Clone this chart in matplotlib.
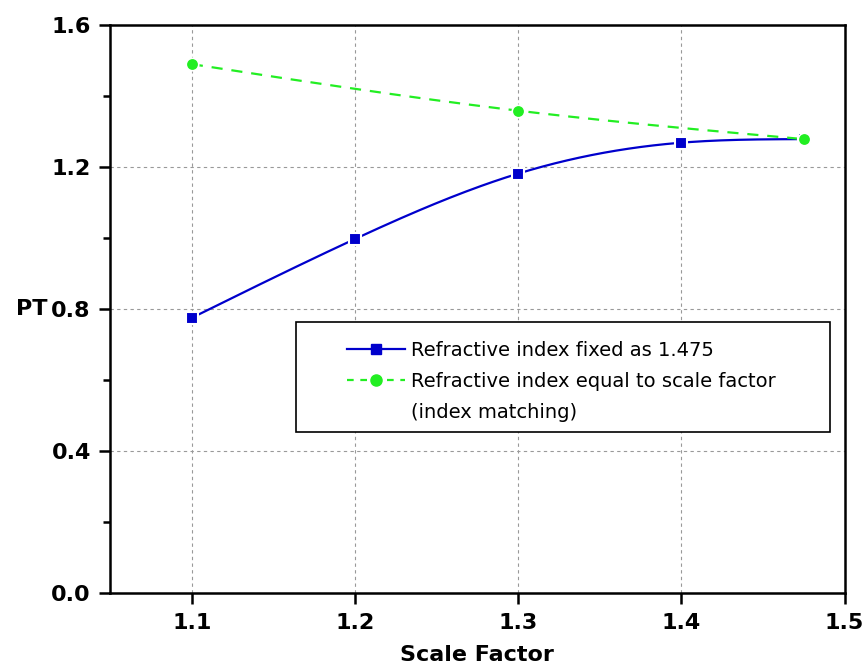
import numpy as np
import matplotlib
matplotlib.use("Agg")
import matplotlib.pyplot as plt
from matplotlib.patches import Rectangle

# data
scale_fixed = [1.1, 1.2, 1.3, 1.4, 1.475]
pt_fixed = [0.775, 0.997, 1.181, 1.268, 1.278]

scale_match = [1.1, 1.3, 1.475]
pt_match = [1.489, 1.358, 1.278]

label_fixed = "Refractive index fixed as 1.475"
label_match = "Refractive index equal to scale factor"
label_match2 = "(index matching)"

x_ticks = [1.1, 1.2, 1.3, 1.4, 1.5]
y_ticks = [0.0, 0.4, 0.8, 1.2, 1.6]
y_minor = [0.2, 0.6, 1.0, 1.4]


def smooth(x, y, n=200):
    # natural cubic spline, only used to draw the connecting line
    x = np.asarray(x, float)
    y = np.asarray(y, float)
    k = len(x)
    h = np.diff(x)
    A = np.zeros((k, k))
    b = np.zeros(k)
    A[0, 0] = A[-1, -1] = 1
    for i in range(1, k - 1):
        A[i, i - 1] = h[i - 1]
        A[i, i] = 2 * (h[i - 1] + h[i])
        A[i, i + 1] = h[i]
        b[i] = 6 * ((y[i + 1] - y[i]) / h[i] - (y[i] - y[i - 1]) / h[i - 1])
    m = np.linalg.solve(A, b)
    xs = np.linspace(x[0], x[-1], n)
    idx = np.clip(np.searchsorted(x, xs) - 1, 0, k - 2)
    x0, x1 = x[idx], x[idx + 1]
    hh = x1 - x0
    t0, t1 = x1 - xs, xs - x0
    ys = (m[idx] * t0**3 + m[idx + 1] * t1**3) / (6 * hh) \
        + (y[idx] / hh - m[idx] * hh / 6) * t0 \
        + (y[idx + 1] / hh - m[idx + 1] * hh / 6) * t1
    return xs, ys


fig = plt.figure(figsize=(8.68, 6.68), dpi=100)
ax = fig.add_axes([0.127, 0.112, 0.846, 0.851])

blue = "#0000cc"
green = "#22ee22"

xs, ys = smooth(scale_fixed, pt_fixed)
ax.plot(xs, ys, color=blue, lw=1.6, zorder=3)
ax.plot(scale_fixed, pt_fixed, ls="none", marker="s", ms=8, color=blue,
        mec="white", mew=1.5, zorder=4)

xs, ys = smooth(scale_match, pt_match)
ax.plot(xs, ys, color=green, lw=1.6, ls=(0, (5, 4)), zorder=3)
ax.plot(scale_match, pt_match, ls="none", marker="o", ms=9, color=green,
        mec="white", mew=1.2, zorder=5)

# legend proxies (third one only carries the second text line)
ax.plot([], [], color=blue, lw=1.6, marker="s", ms=7, label=label_fixed)
ax.plot([], [], color=green, lw=1.6, ls=(0, (3, 3)), marker="o", ms=8,
        label=label_match)
ax.plot([], [], color="none", label=label_match2)

ax.set_xlim(1.05, 1.5)
ax.set_ylim(0.0, 1.6)
ax.set_xticks(x_ticks)
ax.set_xticklabels([f"{v:.1f}" for v in x_ticks], fontweight="bold")
ax.set_yticks(y_ticks)
ax.set_yticklabels([f"{v:.1f}" for v in y_ticks], fontweight="bold")
ax.set_yticks(y_minor, minor=True)

ax.grid(True, which="major", color="#999999", ls=(0, (3, 3)), lw=0.8)
for s in ax.spines.values():
    s.set_linewidth(1.8)
ax.tick_params(which="major", direction="out", length=8, width=1.8,
               labelsize=16, pad=6)
ax.tick_params(which="minor", direction="out", length=5, width=1.8)

ax.set_xlabel("Scale Factor", fontsize=16, fontweight="bold", labelpad=9)
ax.set_ylabel("PT", fontsize=16, fontweight="bold", rotation=0,
              ha="center", va="center")
ax.yaxis.set_label_coords(-0.107, 0.5)

# legend box drawn separately so it can be wider than its contents
ax.add_patch(Rectangle((0.253, 0.283), 0.727, 0.194, transform=ax.transAxes,
                       facecolor="white", edgecolor="black", lw=1.2, zorder=6))
leg = ax.legend(loc="upper left", bbox_to_anchor=(0.322, 0.444), fontsize=14,
                frameon=False, handlelength=3.0, handletextpad=0.3,
                borderpad=0, labelspacing=0.63, borderaxespad=0)
leg.set_zorder(7)

fig.savefig("out.png", dpi=100)
